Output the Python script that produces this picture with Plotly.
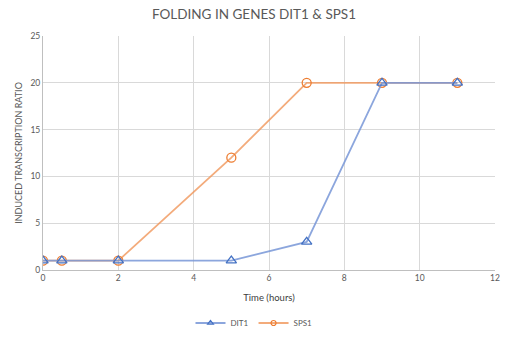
import plotly.graph_objects as go

time_hours = [0, 0.5, 2, 5, 7, 9, 11]
dit1 = [1, 1, 1, 1, 3, 20, 20]
sps1 = [1, 1, 1, 12, 20, 20, 20]
x_ticks = [0, 2, 4, 6, 8, 10, 12]
y_ticks = [0, 5, 10, 15, 20, 25]

FONT = "Lato, 'Open Sans', sans-serif"
BLUE_LINE = "rgba(120,150,215,0.85)"
BLUE_MK = "#4472c4"
ORANGE_LINE = "rgba(240,150,90,0.8)"
ORANGE_MK = "#ed7d31"

fig = go.Figure()
fig.add_trace(go.Scatter(
    x=time_hours, y=sps1, name="SPS1", mode="lines+markers",
    line=dict(color=ORANGE_LINE, width=1.8),
    marker=dict(symbol="circle-open", size=9, color=ORANGE_MK, line=dict(width=1.3, color=ORANGE_MK)),
    showlegend=False,
))
fig.add_trace(go.Scatter(
    x=time_hours, y=dit1, name="DIT1", mode="lines+markers",
    line=dict(color=BLUE_LINE, width=1.8),
    marker=dict(symbol="triangle-up-open", size=9, color=BLUE_MK, line=dict(width=1.3, color=BLUE_MK)),
    showlegend=False,
))
# legend-only entries with small markers
fig.add_trace(go.Scatter(
    x=[None], y=[None], name="DIT1", mode="lines+markers",
    line=dict(color=BLUE_LINE, width=1.8),
    marker=dict(symbol="triangle-up-open", size=5, color=BLUE_MK, line=dict(width=1.2, color=BLUE_MK)),
))
fig.add_trace(go.Scatter(
    x=[None], y=[None], name="SPS1", mode="lines+markers",
    line=dict(color=ORANGE_LINE, width=1.8),
    marker=dict(symbol="circle-open", size=5, color=ORANGE_MK, line=dict(width=1.2, color=ORANGE_MK)),
))

fig.update_layout(
    width=508, height=338,
    margin=dict(l=43, r=13, t=36, b=68),
    paper_bgcolor="white", plot_bgcolor="white",
    font=dict(family=FONT, color="#595959", size=9),
    title=dict(text="FOLDING IN GENES DIT1 & SPS1", x=0.5, xref="container", xanchor="center",
               y=1 - 14 / 338, yanchor="middle", font=dict(size=13.5, color="#595959", family=FONT)),
    legend=dict(orientation="h", x=0.5, xref="container", xanchor="center",
                y=1 - 323 / 338, yref="container", yanchor="middle",
                font=dict(size=8, color="#595959"), itemwidth=30, traceorder="normal"),
    showlegend=True,
)
fig.update_xaxes(range=[0, 12], tickvals=x_ticks, showgrid=True, gridcolor="#d9d9d9", gridwidth=1,
                 zeroline=False, showline=True, linecolor="#bfbfbf", linewidth=1, ticks="",
                 tickfont=dict(size=8.5, color="#595959"), automargin=False,
                 title=dict(text="Time (hours)", font=dict(size=9.5, color="#404040"), standoff=12))
fig.update_yaxes(range=[0, 25], tickvals=y_ticks, showgrid=True, gridcolor="#d9d9d9", gridwidth=1,
                 zeroline=False, showline=True, linecolor="#bfbfbf", linewidth=1, ticks="",
                 tickfont=dict(size=8.5, color="#595959"), automargin=False,
                 title=dict(text="INDUCED TRANSCRIPTION RATIO", font=dict(size=9, color="#595959"), standoff=6))

fig.write_html("out.html")
